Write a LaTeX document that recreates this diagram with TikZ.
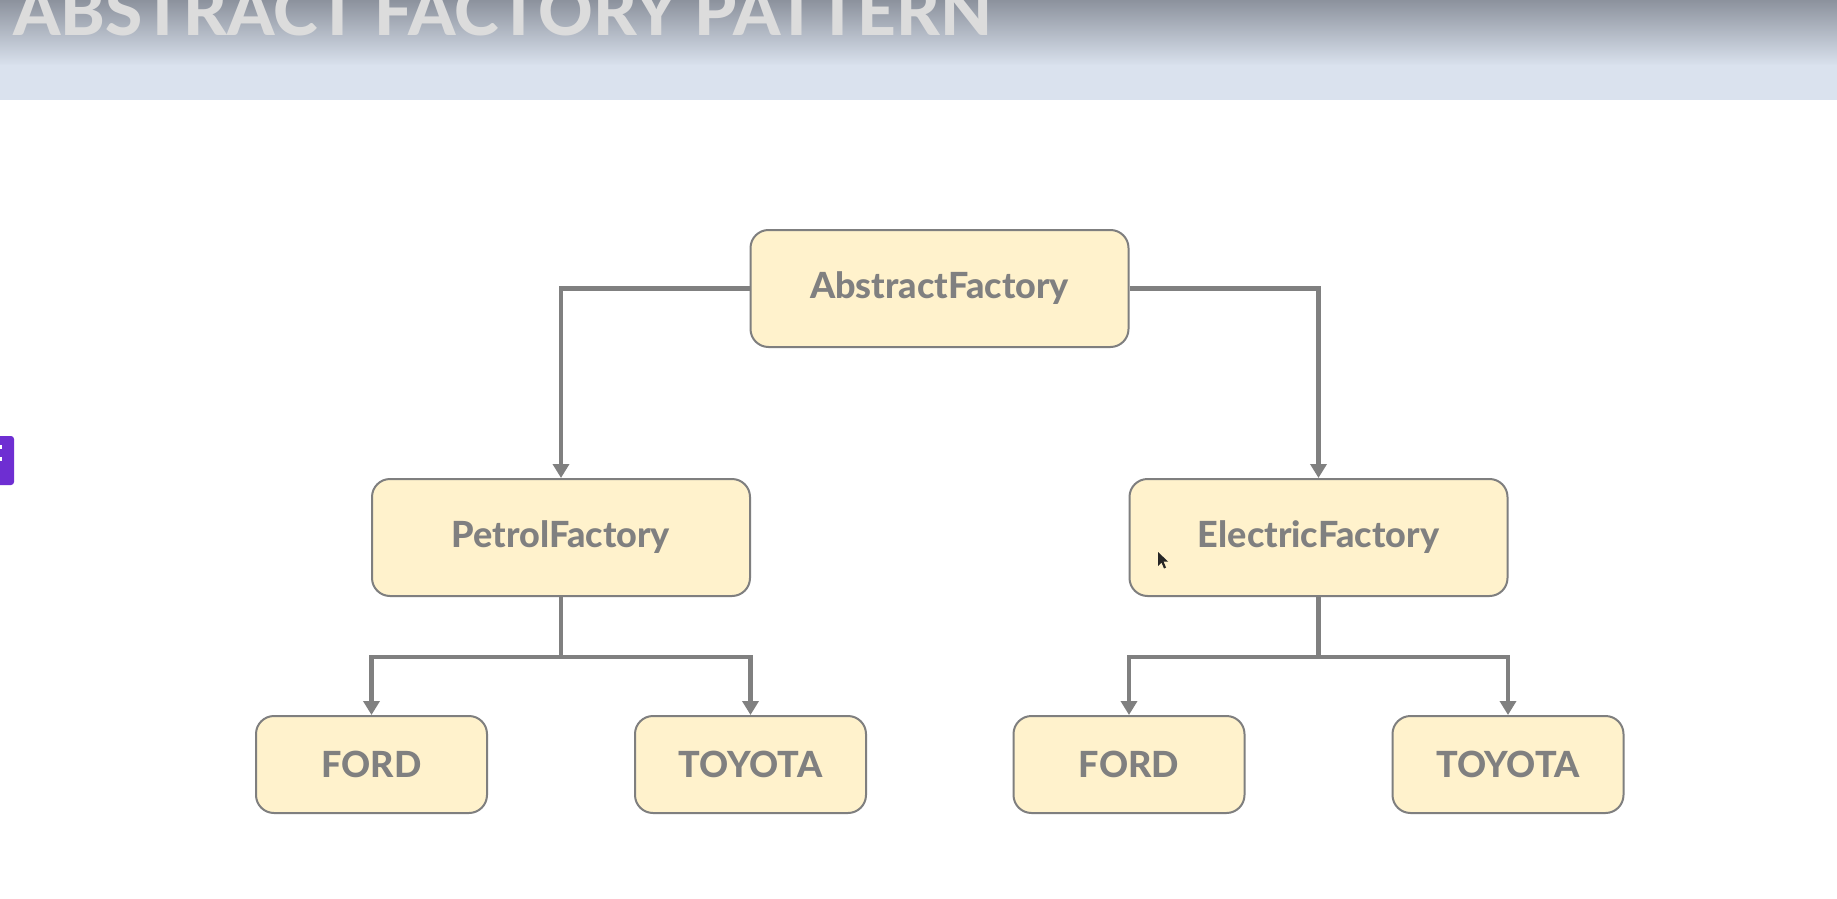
\documentclass[tikz,border=0pt]{standalone}
\usepackage{fontspec}
\setmainfont{Lato}[UprightFont=* Heavy]
\usetikzlibrary{arrows.meta}
\definecolor{boxfill}{HTML}{FFF2CC}
\definecolor{boxline}{HTML}{7F7F7F}
\definecolor{txtgray}{HTML}{808080}
\definecolor{bandtop}{HTML}{8C929D}
\definecolor{bandbot}{HTML}{DAE2EE}
\definecolor{tabpurple}{HTML}{6E2ED2}
\definecolor{titlegray}{HTML}{DCDCDC}
\tikzset{
  box/.style={draw=boxline, line width=2pt, fill=boxfill, rounded corners=18pt,
    text=txtgray, font=\fontsize{36}{40}\selectfont, inner sep=0pt},
  bigbox/.style={box, minimum width=378pt, minimum height=117pt},
  smallbox/.style={box, minimum width=231pt, minimum height=97pt},
  link/.style={draw=txtgray, line width=4.7pt},
  arrowlink/.style={link, -{Triangle[width=16pt,length=14pt]}},
}
\begin{document}
\begin{tikzpicture}[x=1pt,y=-1pt]
\useasboundingbox (0,0) rectangle (1837,899);
\fill[white] (0,0) rectangle (1837,899);
% header band
\shade[top color=bandtop, bottom color=bandbot] (0,0) rectangle (1837,66);
\fill[bandbot] (0,65.5) rectangle (1837,100);
\node[anchor=base west, inner sep=0pt, text=titlegray, font=\fontsize{67.5}{68}\selectfont] (title) at (13,36) {ABSTRACT FACTORY PATTERN};
% purple tab
\fill[tabpurple, rounded corners=3pt] (-6,436) rectangle (14,485);
\fill[white] (0,445) rectangle (1.5,449);
\fill[white] (0,457) rectangle (1.5,461);
% nodes
\node[bigbox] (af) at (939.5,288.5) {AbstractFactory};
\node[bigbox] (pf) at (561,537.5) {PetrolFactory};
\node[bigbox] (ef) at (1318.5,537.5) {ElectricFactory};
\node[smallbox] (f1) at (371.5,764.5) {FORD};
\node[smallbox] (t1) at (750.5,764.5) {TOYOTA};
\node[smallbox] (f2) at (1129,764.5) {FORD};
\node[smallbox] (t2) at (1508,764.5) {TOYOTA};
% connectors
\draw[arrowlink] (af.west) -| (pf.north);
\draw[arrowlink] (af.east) -| (ef.north);
\coordinate (pb) at ([yshift=-60pt]pf.south);
\coordinate (eb) at ([yshift=-60pt]ef.south);
\draw[link] (pf.south) -- (pb);
\draw[arrowlink] (pb) -| (f1.north);
\draw[arrowlink] (pb) -| (t1.north);
\draw[link] (ef.south) -- (eb);
\draw[arrowlink] (eb) -| (f2.north);
\draw[arrowlink] (eb) -| (t2.north);
% mouse cursor
\fill[black!85] (1158,552) -- (1158,566) -- (1161.5,562.5) -- (1164,568.5) -- (1166,567.5) -- (1163.5,561.5) -- (1168,561.5) -- cycle;
\end{tikzpicture}
\end{document}
